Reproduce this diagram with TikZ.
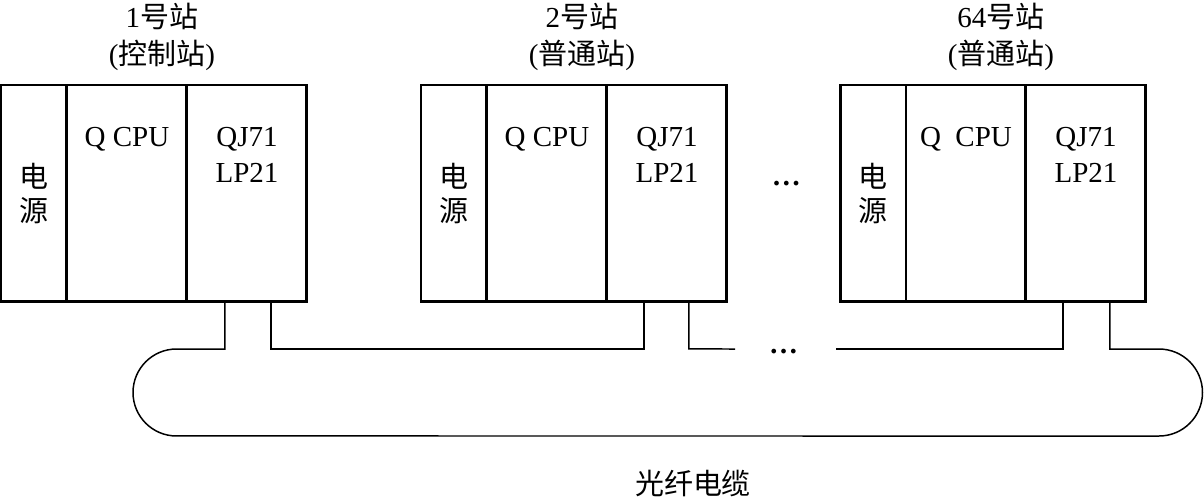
\documentclass[tikz,border=0pt]{standalone}
\usepackage{fontspec}
\setmainfont{Liberation Serif}
\newfontfamily\cjk{Noto Sans CJK SC}
\usetikzlibrary{positioning,calc}

\begin{document}
\begin{tikzpicture}[
  x=0.02cm, y=-0.02cm,
  font=\fontsize{16.5}{20.5}\selectfont,
  pwr/.style={draw, line width=1.7pt, outer sep=0pt, minimum width=1.32cm, minimum height=4.34cm},
  modul/.style={draw, line width=1.7pt, outer sep=0pt, minimum width=2.4cm, minimum height=4.34cm},
  title/.style={align=center, font=\fontsize{16.5}{21.5}\selectfont},
  lbl/.style={below=0.84cm of #1, align=center, inner sep=0pt},
  cable/.style={line width=0.85pt}
]
\useasboundingbox (0,0) rectangle (1204,498);

% stations
\node[pwr, anchor=north west] (pw1) at (1,85) {};
\node[modul, right=0pt of pw1] (cpu1) {};
\node[modul, right=0pt of cpu1] (lp1) {};
\node[pwr, anchor=north west] (pw2) at (421,85) {};
\node[modul, right=0pt of pw2] (cpu2) {};
\node[modul, right=0pt of cpu2] (lp2) {};
\node[pwr, anchor=north west] (pw3) at (840,85) {};
\node[modul, right=0pt of pw3] (cpu3) {};
\node[modul, right=0pt of cpu3] (lp3) {};

% titles
\node[title] (t1) at ($(pw1.north west)!0.5!(lp1.north east)+(8,-48)$) {1{\cjk 号站}\\({\cjk 控制站})};
\node[title] (t2) at ($(pw2.north west)!0.5!(lp2.north east)+(8,-48)$) {2{\cjk 号站}\\({\cjk 普通站})};
\node[title] (t3) at ($(pw3.north west)!0.5!(lp3.north east)+(8,-48)$) {64{\cjk 号站}\\({\cjk 普通站})};

% module texts
\foreach \i in {1,2,3}{
  \node[align=center, font=\cjk\fontsize{16.5}{19}\selectfont] (pt\i) at (pw\i.center) {电\\源};
  \node[lbl=lp\i.north] (lt\i) {QJ71\\LP21};
}
\node[lbl=cpu1.north] (ct1) {Q CPU};
\node[lbl=cpu2.north] (ct2) {Q CPU};
\node[lbl=cpu3.north] (ct3) {Q\ \ CPU};
\node (dots1) at ($(lp2.east)!0.5!(pw3.west)+(3,-10)$) {\textbf{…}};

% optical cable
\coordinate (a1) at ($(lp1.south west)+(38,0)$);
\coordinate (b1) at ($(lp1.south west)+(84,0)$);
\coordinate (a2) at ($(lp2.south west)+(37,0)$);
\coordinate (b2) at ($(lp2.south west)+(82,0)$);
\coordinate (a3) at ($(lp3.south west)+(37,0)$);
\coordinate (b3) at ($(lp3.south west)+(84,0)$);
\coordinate (lc) at (176.5,349);
\coordinate (rc) at (1159,436);
\coordinate (e2) at (735,349);
\coordinate (s3) at (836,349);

\draw[cable] (a1) |- (lc) arc[start angle=90, end angle=270, radius=0.87cm]
  -- (rc) arc[start angle=-90, end angle=90, radius=0.87cm] -| (b3);
\draw[cable] (b1) -- ++(0,47) -| (a2);
\draw[cable] (b2) -- ++(0,47) -- (e2);
\draw[cable] (s3) -| (a3);
\node (dots2) at ($(e2)!0.5!(s3)+(-2,3)$) {\textbf{…}};

\node[font=\cjk\fontsize{16.5}{20}\selectfont] (cab) at (693,483) {光纤电缆};
\end{tikzpicture}
\end{document}
